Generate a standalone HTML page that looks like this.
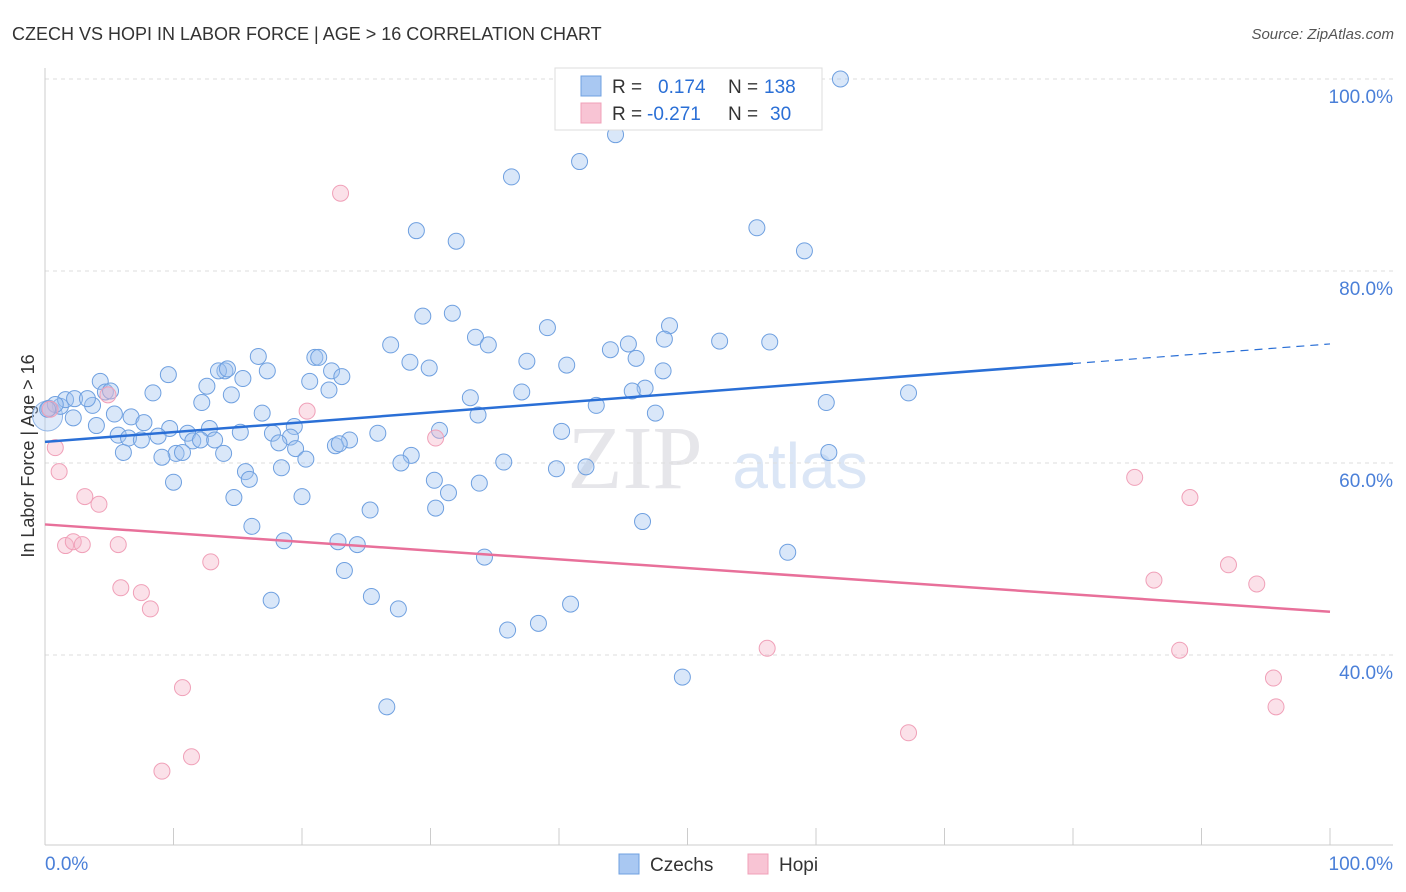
<!DOCTYPE html>
<html><head><meta charset="utf-8">
<style>
body{margin:0;background:#fff;font-family:"Liberation Sans",sans-serif;}
#wrap{position:relative;width:1406px;height:892px;overflow:hidden;}
</style></head>
<body>
<div id="wrap">
<svg id="chart" width="1406" height="892">
<text x="12" y="40" font-size="18" fill="#333">CZECH VS HOPI IN LABOR FORCE | AGE &gt; 16 CORRELATION CHART</text>
<text x="1394" y="39" font-size="15" fill="#555" font-style="italic" text-anchor="end">Source: ZipAtlas.com</text>
<text x="635" y="488" font-size="90" fill="#e6e6ea" font-family="Liberation Serif,serif" text-anchor="middle">ZIP</text>
<text x="800" y="488" font-size="64" fill="#dbe6f6" text-anchor="middle">atlas</text>
<text x="34" y="456" font-size="18" fill="#333" text-anchor="middle" transform="rotate(-90 34 456)">In Labor Force | Age &gt; 16</text>
<g id="grid"></g><g id="axes"></g><g id="pts"></g><g id="trend"></g>
<g>
<rect x="555" y="68" width="267" height="62" fill="#fff" stroke="#ddd"/>
<rect x="581" y="76" width="20" height="20" fill="#a9c8f2" stroke="#6fa0e0"/>
<rect x="581" y="103" width="20" height="20" fill="#f8c4d4" stroke="#f0a0b8"/>
<text x="612" y="93" font-size="19" fill="#333">R = <tspan fill="#2a6fd6" x="658">0.174</tspan><tspan x="728" fill="#333">N = </tspan><tspan fill="#2a6fd6" x="764">138</tspan></text>
<text x="612" y="120" font-size="19" fill="#333">R = <tspan fill="#2a6fd6" x="647">-0.271</tspan><tspan x="728" fill="#333">N = </tspan><tspan fill="#2a6fd6" x="770">30</tspan></text>
</g>
<g>
<rect x="619" y="854" width="20" height="20" fill="#a9c8f2" stroke="#6fa0e0"/>
<text x="650" y="871" font-size="19" fill="#333">Czechs</text>
<rect x="748" y="854" width="20" height="20" fill="#f8c4d4" stroke="#f0a0b8"/>
<text x="779" y="871" font-size="19" fill="#333">Hopi</text>
</g>
</svg>
</div>
<script>
const czX=[61.9,44.4,41.6,36.3,28.9,32.0,55.4,59.1,29.4,31.7,39.1,33.5,34.5,26.9,48.6,52.5,56.4,44.0,45.4,48.2,46.0,37.5,28.4,40.6,29.9,16.6,21.0,21.3,22.3,14.0,13.5,17.3,14.2,9.6,15.4,23.1,20.6,22.1,12.6,4.3,4.7,5.1,8.4,14.5,37.1,33.1,48.1,46.7,45.7,67.2,60.8,42.9,12.2,3.7,1.2,0.3,1.6,2.3,3.3,0.8,0.2,2.2,5.4,6.7,7.7,4.0,16.9,19.4,33.7,47.5,30.7,40.2,9.7,11.1,12.8,15.2,17.7,19.1,23.7,25.9,5.7,6.5,7.5,8.8,11.5,12.1,13.2,18.2,19.5,22.6,22.9,6.1,10.2,10.7,9.1,13.9,20.3,28.5,27.7,35.7,39.8,42.1,61.0,15.6,18.4,15.9,10.0,30.3,33.8,14.7,20.0,31.4,25.3,30.4,16.1,46.5,18.6,22.8,24.3,34.2,57.8,23.3,25.4,17.6,27.5,40.9,38.4,36.0,49.6,26.6];
const czY=[100.0,94.2,91.4,89.8,84.2,83.1,84.5,82.1,75.3,75.6,74.1,73.1,72.3,72.3,74.3,72.7,72.6,71.8,72.4,72.9,70.9,70.6,70.5,70.2,69.9,71.1,71.0,71.0,69.6,69.6,69.6,69.6,69.8,69.2,68.8,69.0,68.5,67.6,68.0,68.5,67.4,67.5,67.3,67.1,67.4,66.8,69.6,67.8,67.5,67.3,66.3,66.0,66.3,66.0,65.9,65.7,66.6,66.7,66.7,66.1,65.6,64.7,65.1,64.8,64.2,63.9,65.2,63.8,65.0,65.2,63.4,63.3,63.6,63.1,63.6,63.2,63.1,62.7,62.4,63.1,62.9,62.6,62.4,62.8,62.3,62.4,62.4,62.1,61.5,61.8,62.0,61.1,61.0,61.1,60.6,61.0,60.4,60.8,60.0,60.1,59.4,59.6,61.1,59.1,59.5,58.3,58.0,58.2,57.9,56.4,56.5,56.9,55.1,55.3,53.4,53.9,51.9,51.8,51.5,50.2,50.7,48.8,46.1,45.7,44.8,45.3,43.3,42.6,37.7,34.6];
const hoX=[23.0,30.4,20.4,0.4,0.8,1.1,3.1,4.2,4.9,1.6,2.2,2.9,5.7,12.9,5.9,7.5,8.2,10.7,11.4,9.1,56.2,67.2,84.8,89.1,86.3,92.1,94.3,88.3,95.6,95.8];
const hoY=[88.1,62.6,65.4,65.6,61.6,59.1,56.5,55.7,67.1,51.4,51.8,51.5,51.5,49.7,47.0,46.5,44.8,36.6,29.4,27.9,40.7,31.9,58.5,56.4,47.8,49.4,47.4,40.5,37.6,34.6];
const czTrend=[62.2,72.4];
const hoTrend=[53.6,44.5];
const yTicks=[100,80,60,40];
const xTickVals=[0,10,20,30,40,50,60,70,80,90,100];
const xs=v=>45+v*12.85, ys=v=>79+(100-v)*9.6;
const NS='http://www.w3.org/2000/svg';
function mk(parent,tag,attrs){const e=document.createElementNS(NS,tag);for(const k in attrs)e.setAttribute(k,attrs[k]);document.getElementById(parent).appendChild(e);return e;}
yTicks.forEach(t=>{
  const l=mk('grid','line',{x1:45,x2:1393,y1:ys(t),y2:ys(t),stroke:'#ddd','stroke-dasharray':'4 4'});
  
  
  const tx=mk('grid','text',{x:1393,y:ys(t)+24,'font-size':19,fill:'#4a7fd8','text-anchor':'end'});
  tx.textContent=t.toFixed(1)+'%';
  
  
});
let ax=mk('axes','line',{x1:45,x2:45,y1:68,y2:845,stroke:'#ccc'});


ax=mk('axes','line',{x1:45,x2:1393,y1:845,y2:845,stroke:'#ccc'});


xTickVals.forEach(t=>{
  const l=mk('axes','line',{x1:xs(t),x2:xs(t),y1:828,y2:845,stroke:'#ccc'});
  
  
});
let t0=mk('axes','text',{x:45,y:870,'font-size':19,fill:'#4a7fd8'});t0.textContent='0.0%';


let t1=mk('axes','text',{x:1393,y:870,'font-size':19,fill:'#4a7fd8','text-anchor':'end'});t1.textContent='100.0%';


const big=mk('pts','circle',{cx:xs(0.2),cy:ys(64.9),r:15,fill:'rgba(160,196,240,0.35)',stroke:'#8fb4e6','stroke-width':1});


czX.forEach((x,i)=>{
  const c=mk('pts','circle',{cx:xs(x),cy:ys(czY[i]),r:8,fill:'rgba(160,196,240,0.4)',stroke:'#6fa0e0','stroke-width':1});
  
  
});
hoX.forEach((x,i)=>{
  const c=mk('pts','circle',{cx:xs(x),cy:ys(hoY[i]),r:8,fill:'rgba(245,180,200,0.4)',stroke:'#f0a0b8','stroke-width':1});
  
  
});
const cz80=czTrend[0]+(czTrend[1]-czTrend[0])*0.8;
let tl=mk('trend','line',{x1:xs(0),y1:ys(czTrend[0]),x2:xs(80),y2:ys(cz80),stroke:'#2a6fd6','stroke-width':2.5});


tl=mk('trend','line',{x1:xs(80),y1:ys(cz80),x2:xs(100),y2:ys(czTrend[1]),stroke:'#2a6fd6','stroke-width':1.2,'stroke-dasharray':'8 6'});


tl=mk('trend','line',{x1:xs(0),y1:ys(hoTrend[0]),x2:xs(100),y2:ys(hoTrend[1]),stroke:'#e8709a','stroke-width':2.5});


</script>
</body></html>
